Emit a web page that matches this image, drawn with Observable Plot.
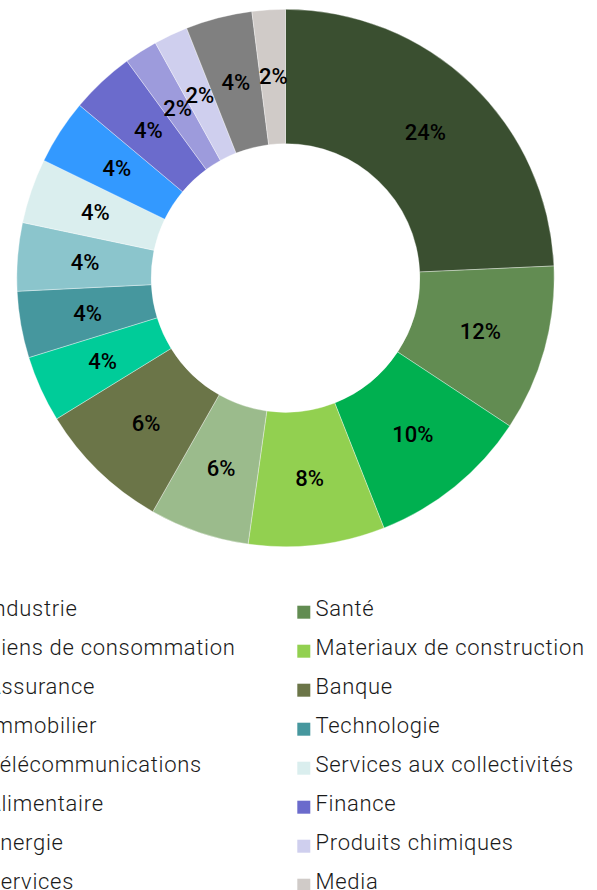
<!DOCTYPE html>
<html><head><meta charset="utf-8">
<script src="https://cdn.jsdelivr.net/npm/d3@7"></script>
<script src="https://cdn.jsdelivr.net/npm/@observablehq/plot@0.6"></script>
<style>
html,body{margin:0;padding:0;background:#fff;overflow:hidden;}
#chart svg{display:block;}
</style></head><body><div id="chart"></div>
<script>
// Sectors in drawing order (clockwise from 12 o'clock), same as legend order (row-major)
const sectors = ["Industrie","Santé","Biens de consommation","Materiaux de construction","Assurance","Banque","Immobilier","Technologie","Télécommunications","Services aux collectivités","Alimentaire","Finance","Energie","Produits chimiques","Services","Media"];
// Slice shares
const shares = [24.3,10.0,9.75,8.2,6.0,8.0,4.0,4.0,4.1,3.9,3.9,3.85,2.0,2.05,4.0,2.0];
// Labels printed on the slices
const labels = ["24%","12%","10%","8%","6%","6%","4%","4%","4%","4%","4%","4%","2%","2%","4%","2%"];
const colors = ["#3a4f30","#628c52","#00b050","#92d050","#9bbb8c","#6b7548","#00cc99","#46979e","#8bc5cc","#daeeee","#3399ff","#6b6bcc","#9d9bdc","#cfcfee","#808080","#d0cbc8"];

const data = sectors.map((name, i) => ({name, value: shares[i], label: labels[i]}));
const arcs = d3.pie().value(d => d.value).sort(null)(data);
const labelR = 0.75;
const labelData = arcs.map(a => {
  const m = (a.startAngle + a.endAngle) / 2;
  return {label: a.data.label, x: Math.sin(m) * labelR, y: Math.cos(m) * labelR};
});
const colorScale = {type: "ordinal", domain: sectors, range: colors};

const donut = Plot.plot({
  width: 597, height: 575, margin: 0,
  style: {fontFamily: "Roboto", background: "#fff"},
  x: {domain: [-1, 1], range: [16.8, 554.2], axis: null},
  y: {domain: [-1, 1], range: [546.7, 9.3], axis: null},
  color: colorScale,
  marks: [
    (index, scales) => {
      const cx = scales.x(0), cy = scales.y(0), R = scales.x(1) - scales.x(0);
      const color = scales.color || d3.scaleOrdinal(sectors, colors);
      const arc = d3.arc().innerRadius(R * 0.5).outerRadius(R);
      const g = d3.create("svg:g").attr("transform", `translate(${cx},${cy})`);
      g.selectAll("path").data(arcs).join("path")
        .attr("d", arc)
        .attr("fill", d => color(d.data.name))
        .attr("stroke", "#fff").attr("stroke-opacity", 0.6).attr("stroke-width", 0.6);
      return g.node();
    },
    Plot.text(labelData, {x: "x", y: "y", text: "label", fontSize: 22, fontWeight: 500, fill: "#000"})
  ]
});

const legendData = sectors.map((name, i) => ({name, col: i % 2, row: Math.floor(i / 2)}));
const legend = Plot.plot({
  width: 597, height: 315, margin: 0,
  style: {fontFamily: "Roboto", background: "#fff", letterSpacing: "0.7px"},
  x: {domain: [0, 1], range: [-13.5, 315], axis: null},
  y: {domain: [0, 7], range: [40.7, 313.7], axis: null},
  color: colorScale,
  marks: [
    Plot.dot(legendData, {x: "col", y: "row", fill: "name", symbol: "square", r: 7.33, dx: -11.7, dy: -4}),
    Plot.text(legendData, {x: "col", y: "row", text: "name", textAnchor: "start", lineAnchor: "bottom", fontSize: 22, fontWeight: 300, fill: "#1a1a1a"})
  ]
});

document.getElementById("chart").append(donut, legend);
</script></body></html>
